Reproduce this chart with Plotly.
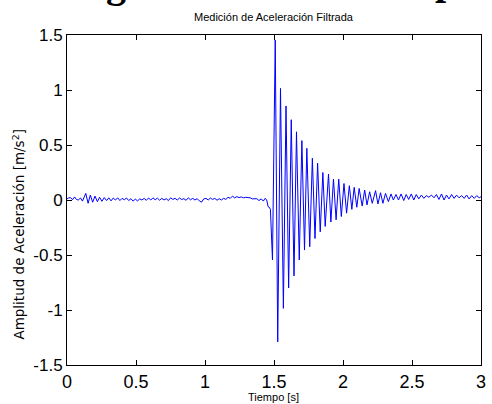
import plotly.graph_objects as go

# ---- data ----
# pre-event noise
t_noise = [0.000, 0.010, 0.026, 0.040, 0.055, 0.068, 0.082, 0.098, 0.112, 0.124, 0.136, 0.153,
           0.169, 0.186, 0.203, 0.220, 0.236, 0.253, 0.270, 0.287, 0.303, 0.319, 0.335, 0.351,
           0.367, 0.383, 0.399, 0.415, 0.431, 0.447, 0.463, 0.479, 0.495, 0.511, 0.527, 0.543,
           0.559, 0.575, 0.591, 0.607, 0.623, 0.639, 0.655, 0.671, 0.687, 0.703, 0.719, 0.735,
           0.751, 0.767, 0.783, 0.799, 0.815, 0.831, 0.847, 0.863, 0.879, 0.895, 0.911, 0.927,
           0.943, 0.959, 0.975, 0.991, 1.007, 1.023, 1.039, 1.055, 1.071, 1.087, 1.103, 1.119,
           1.135, 1.151, 1.167, 1.183, 1.199, 1.215, 1.231, 1.247, 1.263, 1.279, 1.295, 1.311,
           1.327, 1.343, 1.359, 1.375, 1.391, 1.407, 1.423, 1.435, 1.447]
a_noise = [0.010, 0.018, 0.022, 0.002, 0.028, 0.005, 0.000, 0.018, -0.010, 0.030, 0.060, -0.030,
           0.045, -0.020, 0.035, -0.015, 0.025, -0.012, 0.022, -0.005, 0.020, -0.008, 0.018, 0.000,
           0.020, -0.005, 0.015, 0.002, 0.018, -0.005, 0.012, -0.010, 0.008, -0.008, 0.010, 0.000,
           0.015, -0.003, 0.018, 0.000, 0.020, 0.002, 0.017, -0.002, 0.015, 0.000, 0.012, -0.005,
           0.020, 0.005, 0.015, 0.000, 0.018, 0.005, 0.012, -0.003, 0.020, 0.002, 0.015, 0.000,
           0.012, -0.008, -0.020, 0.010, 0.015, 0.000, 0.018, 0.005, 0.015, -0.002, 0.012, 0.000,
           0.015, 0.005, 0.025, 0.015, 0.035, 0.020, 0.030, 0.022, 0.028, 0.020, 0.025, 0.022,
           0.020, 0.010, 0.008, 0.012, -0.005, 0.010, -0.010, 0.015, 0.002]

# impact onset and decaying oscillation
t_event = [1.457, 1.465, 1.474, 1.489, 1.509, 1.527, 1.547, 1.568, 1.587, 1.606, 1.625, 1.645,
           1.663, 1.683, 1.702, 1.721, 1.738, 1.759, 1.778, 1.797, 1.816, 1.835, 1.854, 1.871,
           1.895, 1.912, 1.931, 1.950, 1.969, 1.988, 2.007, 2.026, 2.046, 2.064, 2.081, 2.100,
           2.117, 2.139, 2.157, 2.174, 2.193, 2.212, 2.236, 2.253, 2.272, 2.289, 2.308, 2.329,
           2.348, 2.365]
a_event = [-0.060, -0.065, -0.085, -0.545, 1.455, -1.290, 1.015, -0.985, 0.855, -0.800, 0.730, -0.690,
           0.620, -0.545, 0.540, -0.455, 0.470, -0.425, 0.380, -0.350, 0.335, -0.290, 0.250, -0.240,
           0.236, -0.200, 0.190, -0.180, 0.190, -0.150, 0.150, -0.120, 0.130, -0.085, 0.115, -0.066,
           0.105, -0.055, 0.090, -0.045, 0.075, -0.030, 0.085, -0.036, 0.066, -0.030, 0.060, -0.015,
           0.055, 0.000]

# residual tail
t_tail = [2.384, 2.402, 2.421, 2.440, 2.458, 2.476, 2.495, 2.513, 2.531, 2.549, 2.568, 2.586,
          2.604, 2.622, 2.641, 2.659, 2.677, 2.695, 2.714, 2.732, 2.750, 2.768, 2.787, 2.805,
          2.823, 2.841, 2.860, 2.878, 2.896, 2.914, 2.933, 2.951, 2.969, 2.987, 3.000]
a_tail = [0.050, 0.000, 0.055, -0.005, 0.050, 0.005, 0.055, 0.000, 0.050, 0.010, 0.045, 0.015,
          0.040, 0.025, 0.045, 0.020, 0.050, 0.005, 0.055, 0.000, 0.045, 0.010, 0.050, 0.015,
          0.045, 0.020, 0.040, 0.015, 0.045, 0.010, 0.040, 0.015, 0.040, 0.020, 0.030]

x_ticks = [0, 0.5, 1, 1.5, 2, 2.5, 3]
x_ticktext = ["0", "0.5", "1", "1.5", "2", "2.5", "3"]
y_ticks = [-1.5, -1, -0.5, 0, 0.5, 1, 1.5]
y_ticktext = ["-1.5", "-1", "-0.5", "0", "0.5", "1", "1.5"]

title_text = "Medición de Aceleración Filtrada"
xlabel = "Tiempo [s]"
ylabel = "Amplitud de Aceleración [m/s<sup>2</sup>]"

t_all = t_noise + t_event + t_tail
a_all = a_noise + a_event + a_tail

fig = go.Figure()
fig.add_trace(go.Scatter(x=t_all, y=a_all, mode="lines",
                         line=dict(color="#0000FF", width=1), showlegend=False,
                         hoverinfo="skip"))

W, H = 492, 404
L, R, T, B = 67, 6, 35, 39
pw, ph = W - L - R, H - T - B

def px(xp):
    return (xp - L) / pw

def py(yp):
    return (H - B - yp) / ph

axis_common = dict(showgrid=False, zeroline=False, showline=True, linecolor="black",
                   linewidth=1, mirror="ticks", ticks="inside", ticklen=5,
                   tickcolor="black", tickwidth=1)

fig.update_layout(
    width=W, height=H,
    margin=dict(l=L, r=R, t=T, b=B, pad=0),
    paper_bgcolor="white", plot_bgcolor="white",
    xaxis=dict(range=[0, 3], tickvals=x_ticks, ticktext=x_ticktext,
               tickfont=dict(family="Liberation Sans", size=18, color="black"),
               **axis_common),
    yaxis=dict(range=[-1.5, 1.5], tickvals=y_ticks, ticktext=y_ticktext,
               tickfont=dict(family="Liberation Sans", size=17, color="black"),
               **axis_common),
    annotations=[
        dict(text=title_text, xref="paper", yref="paper", x=px(276), y=py(17),
             xanchor="center", yanchor="middle", showarrow=False,
             font=dict(family="Liberation Sans", size=11, color="black")),
        dict(text=xlabel, xref="paper", yref="paper", x=px(276), y=py(397),
             xanchor="center", yanchor="middle", showarrow=False,
             font=dict(family="Liberation Sans", size=11, color="black")),
        dict(text=ylabel, xref="paper", yref="paper", x=px(18), y=py(234),
             xanchor="center", yanchor="middle", showarrow=False, textangle=-90,
             font=dict(family="DejaVu Sans", size=13.5, color="black")),
        dict(text="<b>g</b>", xref="paper", yref="paper", x=px(117), y=py(8),
             xanchor="center", yanchor="bottom", showarrow=False,
             font=dict(family="Liberation Serif", size=40, color="black")),
        dict(text="<b>p</b>", xref="paper", yref="paper", x=px(451), y=py(5),
             xanchor="center", yanchor="bottom", showarrow=False,
             font=dict(family="Liberation Serif", size=40, color="black")),
    ],
)

fig.write_html("out.html")
